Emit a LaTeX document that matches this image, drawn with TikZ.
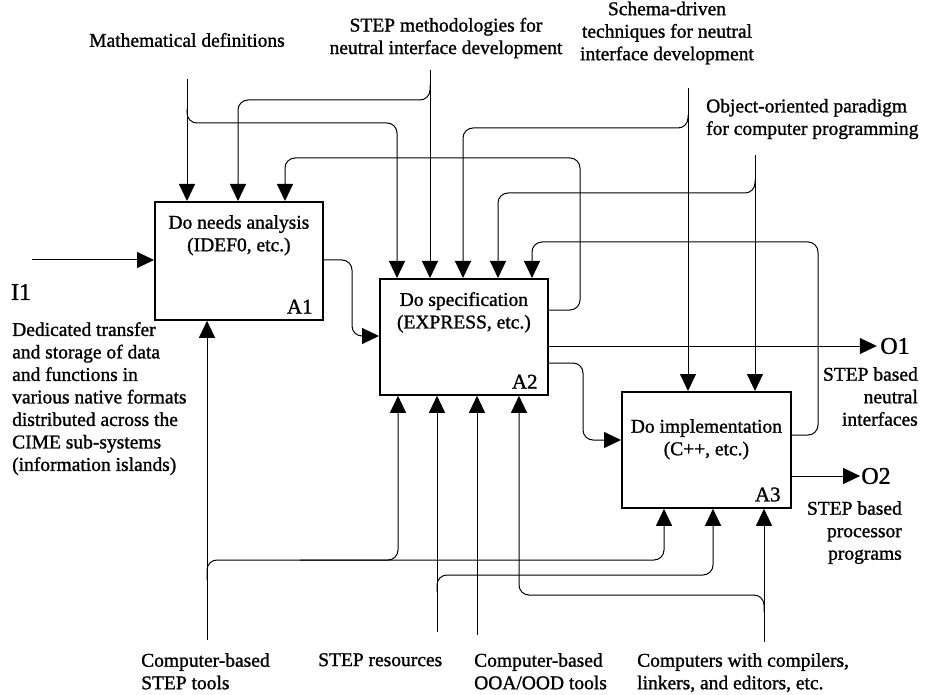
\documentclass[tikz,border=0pt]{standalone}
\usepackage{fontspec}
\setmainfont{Liberation Serif}[BoldFont=Liberation Serif,BoldFeatures={FakeBold=1.2}]
\usetikzlibrary{arrows.meta,positioning}

\begin{document}
\begin{tikzpicture}[x=1pt,y=-1pt,
  box/.style={draw,line width=1.8pt,anchor=north west,inner sep=0pt},
  lbl/.style={align=center,inner sep=0pt,font=\fontsize{19.5}{22.5}\selectfont\bfseries},
  tag/.style={inner sep=0pt,font=\fontsize{21}{24}\selectfont\bfseries},
  io/.style={font=\fontsize{24}{26}\selectfont\bfseries},
  wire/.style={line width=1pt,rounded corners=10pt},
  arr/.style={-{Triangle[length=17pt,width=16pt]}}]
\useasboundingbox (0,0) rectangle (932,695);

% activity boxes
\node[box,minimum width=168pt,minimum height=118pt] (a1) at (154,201) {};
\node[box,minimum width=168pt,minimum height=116pt] (a2) at (379,278) {};
\node[box,minimum width=169pt,minimum height=116pt] (a3) at (621,391) {};
\node[lbl,below=14pt of a1.north] (a1t) {Do needs analysis\\(IDEF0, etc.)};
\node[lbl,below=14pt of a2.north] (a2t) {Do specification\\(EXPRESS, etc.)};
\node[lbl,below=28pt of a3.north] (a3t) {Do implementation\\(C++, etc.)};
\node[tag,anchor=south east] (a1n) at ([xshift=-11pt,yshift=7pt]a1.south east) {A1};
\node[tag,anchor=south east] (a2n) at ([xshift=-11pt,yshift=7pt]a2.south east) {A2};
\node[tag,anchor=south east] (a3n) at ([xshift=-11pt,yshift=7pt]a3.south east) {A3};

% free ends
\coordinate (mathin) at (187,79);
\coordinate (methin) at (430,70);
\coordinate (schemain) at (688,88);
\coordinate (ooin) at (755,155);
\coordinate (i1in) at (32,260);
\coordinate (toolsin) at (207,640);
\coordinate (resin) at (437,632);
\coordinate (ooain) at (477,635);
\coordinate (compin) at (764,642);

% labels
\node[lbl] (mathlbl) at (187,40) {Mathematical definitions};
\node[lbl] (methlbl) at (446,38) {STEP methodologies for\\neutral interface development};
\node[lbl] (schemalbl) at (667,33) {Schema-driven\\techniques for neutral\\interface development};
\node[lbl,align=left,anchor=west] (oolbl) at (706,119) {Object-oriented paradigm\\for computer programming};
\node[io] (i1) at (21,292) {I1};
\node[lbl,align=left,anchor=north west] (i1txt) at (12,322) {Dedicated transfer\\and storage of data\\and functions in\\various native formats\\distributed across the\\CIME sub-systems\\(information islands)};
\node[io] (o1) at (895,346) {O1};
\node[io,inner sep=1pt] (o2) at (876,476) {O2};
\node[lbl,align=right,anchor=north east] (o1txt) at (918,367) {STEP based\\neutral\\interfaces};
\node[lbl,align=right,anchor=north east] (o2txt) at (902,501) {STEP based\\processor\\programs};
\node[lbl,align=left,anchor=north west] (toolslbl) at (141,653) {Computer-based\\STEP tools};
\node[lbl,align=left,anchor=north west] (reslbl) at (318,653) {STEP resources};
\node[lbl,align=left,anchor=north west] (ooalbl) at (474,653) {Computer-based\\OOA/OOD tools};
\node[lbl,align=left,anchor=north west] (complbl) at (637,653) {Computers with compilers,\\linkers, and editors, etc.};

% controls
\draw[wire,arr] (mathin) -- (mathin |- a1.north);
\draw[wire,arr] (mathin) ++(0,30) |- (397,123) -- ([xshift=18pt]a2.north west);
\draw[wire,arr] (methin) -- (methin |- a2.north);
\draw[wire,arr] (methin) ++(0,15) |- (238,100) -- ([xshift=84pt]a1.north west);
\draw[wire,arr] (schemain) -- (schemain |- a3.north);
\draw[wire,arr] (schemain) ++(0,27) |- (463,128) -- ([xshift=84pt]a2.north west);
\draw[wire,arr] (ooin) -- (ooin |- a3.north);
\draw[wire,arr] (ooin) ++(0,25) |- (498,193) -- ([xshift=119pt]a2.north west);

% feedback
\draw[wire,arr] ([yshift=-32pt]a2.north east) -| (580,158) -| ([xshift=131pt]a1.north west);
\draw[wire,arr] ([yshift=-44pt]a3.north east) -| (818,242) -| ([xshift=153pt]a2.north west);

% inputs and outputs
\draw[wire,arr] (i1in) -- (i1in -| a1.west);
\draw[wire,arr] ([yshift=-59pt]a1.north east) -| (352,300) |- ([yshift=-58pt]a2.north west);
\draw[wire,arr] ([yshift=-85pt]a2.north east) -| (583,400) |- ([yshift=-49pt]a3.north west);
\draw[wire,arr] (a2.east |- o1) -- (o1);
\draw[wire,arr] (a3.east |- o2) -- (o2);

% mechanisms
\draw[wire,arr] (toolsin) -- (toolsin |- a1.south);
\draw[wire,arr] (toolsin) ++(0,-60) |- (664,560) -- ([xshift=43pt]a3.south west);
\draw[wire,arr] (300,560) -| ([xshift=19pt]a2.south west);
\draw[wire,arr] (resin) -- (resin |- a2.south);
\draw[wire,arr] (resin) ++(0,-40) |- (713,575) -- ([xshift=92pt]a3.south west);
\draw[wire,arr] (ooain) -- (ooain |- a2.south);
\draw[wire,arr] (compin) -- (compin |- a3.south);
\draw[wire,arr] (compin) ++(0,-30) |- (519,595) -- ([xshift=140pt]a2.south west);
\end{tikzpicture}
\end{document}
